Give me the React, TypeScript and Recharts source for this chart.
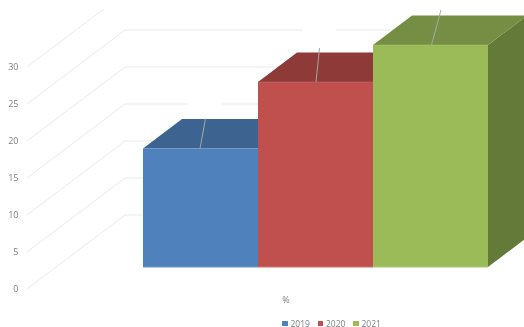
import { Bar, BarChart, CartesianGrid, Legend, XAxis, YAxis } from 'recharts';

const years = ['2019', '2020', '2021'];
const values = [16, 25, 30];
const yTicks = [0, 5, 10, 15, 20, 25, 30];
const category = '%';

const frontColors = ['#4f81bd', '#c0504d', '#9bbb59'];
const topColors = ['#3d6491', '#8e3a38', '#768e44'];
const sideColors = ['#3a5a82', '#7f3432', '#647a39'];
const edgeColors = ['#6f99cb', '#cf6f6c', '#acc873'];

// one row per category, one key per year
const row: Record<string, string | number> = { name: category };
years.forEach((y, i) => {
  row[y] = values[i];
});
const data = [row];

const FONT = '"Open Sans", "Liberation Sans", sans-serif';
const GRID = '#e9e9e9';
const TEXT = '#808080';

// the fake 3d: how far the floor reaches, in pixels
const DEPTH_X = 39;
const DEPTH_Y = 29.5;
const WALL_X = 125;
const FRONT_X = 27;
const FRONT_DY = 22; // axis labels sit below the bar's base
const BACK_DY = -52; // back wall sits above it

/** Y tick: just the label, moved to the front edge of the floor. */
function WallTick({ y, payload }: any) {
  return (
    <text
      x={FRONT_X - 8.5}
      y={y + FRONT_DY + 3}
      textAnchor="end"
      fontSize={9}
      fontFamily={FONT}
      fill={TEXT}
    >
      {payload.value}
    </text>
  );
}

/** Grid line: side wall then back wall, from the y scale's position. */
function WallLine({ y1 }: any) {
  return (
    <polyline
      key={y1}
      clipPath="url(#page)"
      points={`${FRONT_X},${y1 + FRONT_DY} ${WALL_X},${y1 + BACK_DY} 524,${y1 + BACK_DY}`}
      fill="none"
      stroke={GRID}
      strokeWidth={1}
    />
  );
}

function CategoryTick({ x, y, payload }: any) {
  return (
    <text x={x - 29.5} y={y + 28} textAnchor="middle" fontSize={9} fontFamily={FONT} fill={TEXT}>
      {payload.value}
    </text>
  );
}

const leaders = [
  { dx: 57, dy: -30, lean: 5.5 },
  { dx: 58, dy: -34, lean: 3.5 },
  { dx: 58.5, dy: -35, lean: 9.5 },
];

/** Draws a box: side, top, front, plus the leader line of its (blanked) label. */
function makeBox(i: number) {
  return function Box({ x, y, width, height }: any) {
    const r = x + width;
    const b = y + height;
    const l = leaders[i];
    const lx = x + l.dx;
    return (
      <g clipPath="url(#page)">
        <polygon
          points={`${r},${y} ${r + DEPTH_X},${y - DEPTH_Y} ${r + DEPTH_X},${b - DEPTH_Y} ${r},${b}`}
          fill={sideColors[i]}
        />
        <polygon
          points={`${x},${y} ${x + DEPTH_X},${y - DEPTH_Y} ${r + DEPTH_X},${y - DEPTH_Y} ${r},${y}`}
          fill={topColors[i]}
        />
        <rect x={x} y={y} width={width} height={height} fill={frontColors[i]} />
        <line x1={x} y1={b} x2={r} y2={b} stroke={edgeColors[i]} strokeWidth={1} />
        <line x1={x} y1={y} x2={r} y2={y} stroke={edgeColors[i]} strokeWidth={0.5} />
        <rect
          x={lx + l.lean - 16.5}
          y={y + l.dy - 25}
          width={33}
          height={20}
          fill="#ffffff"
        />
        <line
          x1={lx}
          y1={y}
          x2={lx + l.lean}
          y2={y + l.dy}
          stroke="#a6a6a6"
          strokeWidth={1}
        />
      </g>
    );
  };
}

/** Tight legend row: the default one has too much room between items. */
function LegendRow({ payload }: any) {
  return (
    <div style={{ display: 'flex', fontFamily: FONT, fontSize: 8.5, lineHeight: '12px', color: TEXT }}>
      {(payload ?? []).map((p: any) => (
        <span key={p.value} style={{ display: 'flex', alignItems: 'center', width: 35.5 }}>
          <span style={{ width: 5.5, height: 5.5, marginRight: 3, background: p.color }} />
          {p.value}
        </span>
      ))}
    </div>
  );
}

export default function App() {
  return (
    <div
      style={{
        position: 'absolute',
        left: 0,
        top: 0,
        width: 524,
        height: 327,
        overflow: 'hidden',
        filter: 'blur(0.4px)',
      }}
    >
      <BarChart
        width={524}
        height={327}
        data={data}
        barSize={115}
        barGap={0}
        barCategoryGap={0}
        margin={{ top: 45, right: 35, bottom: 30, left: 42 }}
      >
        <defs>
          <clipPath id="page">
            <rect x={0} y={9} width={524} height={318} />
          </clipPath>
        </defs>
        <CartesianGrid vertical={false} horizontal={WallLine} />
        <YAxis
          width={100}
          domain={[0, 30]}
          ticks={yTicks}
          axisLine={false}
          tickLine={false}
          tick={WallTick}
        />
        <XAxis dataKey="name" axisLine={false} tickLine={false} tick={CategoryTick} height={18} />
        {years.map((y, i) => (
          <Bar
            key={y}
            dataKey={y}
            fill={frontColors[i]}
            isAnimationActive={false}
            shape={makeBox(i)}
          />
        ))}
        <Legend
          height={12}
          content={LegendRow}
          wrapperStyle={{ left: 282, top: 317.5, width: 130 }}
        />
      </BarChart>
    </div>
  );
}
